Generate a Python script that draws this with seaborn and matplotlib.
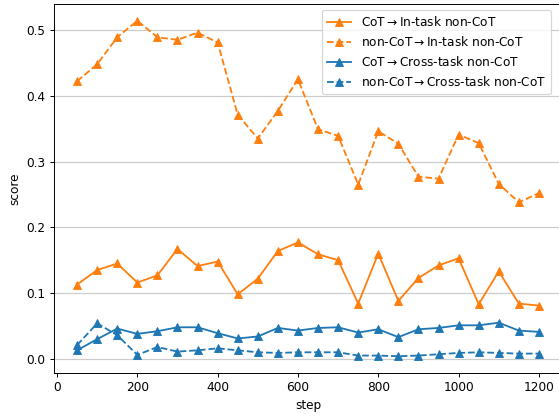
import matplotlib
matplotlib.use("Agg")
import matplotlib.pyplot as plt
import seaborn as sns
import pandas as pd

steps = list(range(50, 1201, 50))
cot_in = [0.113, 0.135, 0.145, 0.116, 0.127, 0.167, 0.141, 0.148, 0.098, 0.122, 0.164, 0.177,
          0.159, 0.150, 0.084, 0.160, 0.088, 0.123, 0.142, 0.153, 0.083, 0.133, 0.084, 0.081]
noncot_in = [0.422, 0.448, 0.489, 0.514, 0.489, 0.485, 0.496, 0.481, 0.371, 0.335, 0.377, 0.425,
             0.349, 0.339, 0.265, 0.346, 0.327, 0.277, 0.274, 0.341, 0.328, 0.266, 0.238, 0.252]
cot_cross = [0.013, 0.030, 0.046, 0.038, 0.042, 0.048, 0.048, 0.039, 0.031, 0.034, 0.047, 0.043,
             0.047, 0.048, 0.040, 0.045, 0.033, 0.045, 0.047, 0.051, 0.051, 0.055, 0.043, 0.041]
noncot_cross = [0.021, 0.054, 0.036, 0.006, 0.018, 0.011, 0.013, 0.016, 0.013, 0.010, 0.009, 0.010,
                0.010, 0.010, 0.005, 0.005, 0.004, 0.005, 0.007, 0.009, 0.010, 0.009, 0.008, 0.008]

labels = [r"CoT$\rightarrow$In-task non-CoT", r"non-CoT$\rightarrow$In-task non-CoT",
          r"CoT$\rightarrow$Cross-task non-CoT", r"non-CoT$\rightarrow$Cross-task non-CoT"]
series = [cot_in, noncot_in, cot_cross, noncot_cross]
colors = ["#ff7f0e", "#ff7f0e", "#1f77b4", "#1f77b4"]
styles = ["-", "--", "-", "--"]

DPI = 87.3
fig = plt.figure(figsize=(559 / DPI, 414 / DPI), dpi=DPI)
ax = fig.add_axes([54 / 559, 41 / 414, 508 / 559, 369 / 414])
for lab, vals, c, ls in zip(labels, series, colors, styles):
    df = pd.DataFrame({"step": steps, "score": vals})
    sns.lineplot(data=df, x="step", y="score", ax=ax, color=c, linestyle=ls,
                 marker="^", markersize=7, markeredgecolor=c, label=lab)

ax.grid(axis="y", color="#cccccc", linewidth=1)
ax.set_axisbelow(True)
ax.legend(loc="upper right", bbox_to_anchor=(0.99, 1.0))
fig.savefig("out.png", dpi=DPI)
